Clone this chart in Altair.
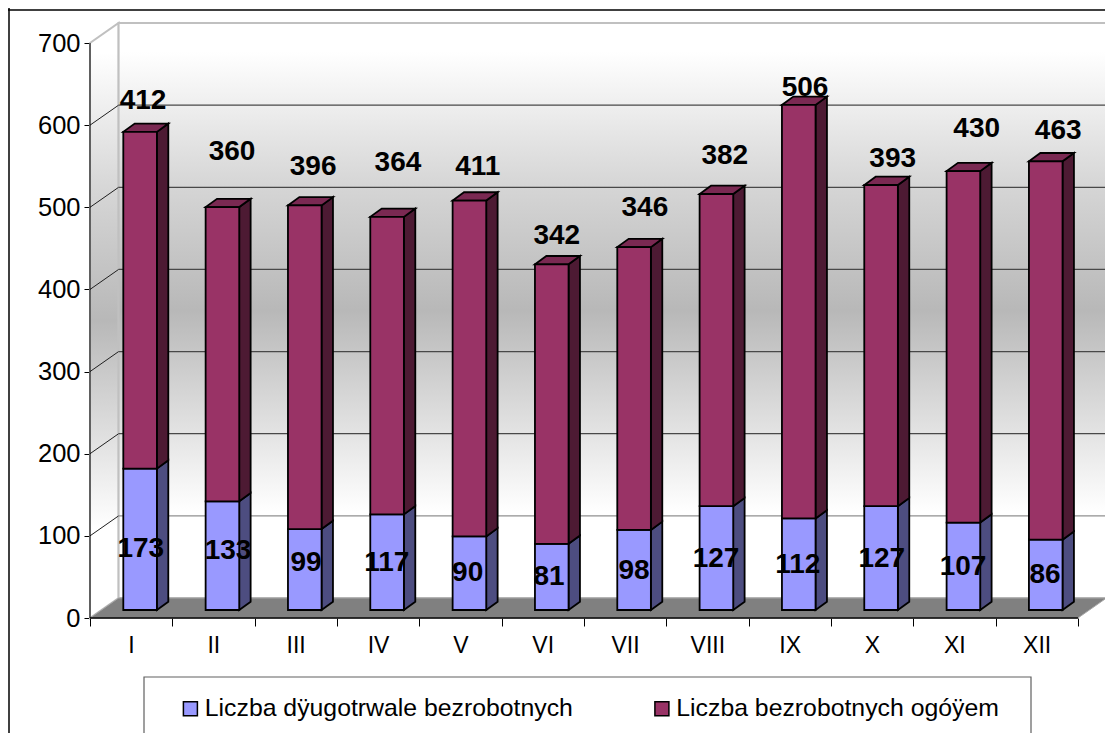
import altair as alt
import pandas as pd

months = ["I", "II", "III", "IV", "V", "VI", "VII", "VIII", "IX", "X", "XI", "XII"]
long_term = [173, 133, 99, 117, 90, 81, 98, 127, 112, 127, 107, 86]
overall = [412, 360, 396, 364, 411, 342, 346, 382, 506, 393, 430, 463]
series = ["Liczba dÿugotrwale bezrobotnych", "Liczba bezrobotnych ogóÿem"]

# label anchors (month position, value-axis height)
overall_label_x = [0.644, 1.725, 2.71, 3.74, 4.71, 5.67, 6.74, 7.71, 8.685, 9.75, 10.77, 11.76]
overall_label_y = [631, 569, 550, 555, 550, 466, 500, 564, 646, 560, 596, 594]
long_label_x = [0.617, 1.676, 2.624, 3.604, 4.587, 5.575, 6.608, 7.604, 8.596, 9.617, 10.604, 11.60]
long_label_y = [85, 83, 68, 68, 56, 51, 58, 73, 66, 73, 63, 54]

FONT = "Liberation Sans"
X_PX = 82.33          # px per month
Y_PX = 0.8214         # px per value unit
W, H = 1097, 725
x_scale = alt.Scale(domain=[(8 - 90) / X_PX, (8 + W - 90) / X_PX], range=[0, W], nice=False, zero=False)
y_scale = alt.Scale(domain=[(618 - 733) / Y_PX, (618 - 8) / Y_PX], range=[H, 0], nice=False, zero=False)

WALL_DX, WALL_DY = 28.6 / X_PX, 20 / Y_PX
BAR_LEFT, BAR_W = 33.3 / X_PX, 33.6 / X_PX
BAR_DX, BAR_DY = 11.4 / X_PX, 8.3 / Y_PX
BASE = 8 / Y_PX
BAR_DEPTH_SCALE = 0.995   # bars stand nearer the back wall of the oblique view
TOP = 700
N = len(months)

x_axis = alt.Axis(
    orient="bottom", offset=-115, values=list(range(0, N + 1)), domain=False, grid=False,
    tickColor="black", tickSize=8, tickWidth=1, labelFontSize=23, labelFont=FONT,
    labelColor="black", labelPadding=8, labelOverlap=False, labelFlush=False, labelOffset=41,
    labelExpr="[" + ",".join(f"'{m}'" for m in months) + ",''][datum.value]",
)
y_axis = alt.Axis(
    orient="left", offset=-82, values=list(range(0, 800, 100)), domain=False, grid=False,
    tickColor="black", tickSize=6, tickWidth=1, labelFontSize=25.5, labelFont=FONT,
    labelColor="black", labelPadding=4, labelOverlap=False,
)

X = alt.X("x:Q", scale=x_scale, axis=x_axis, title=None)
Y = alt.Y("y:Q", scale=y_scale, axis=y_axis, title=None, stack=None)
X2 = alt.X2("x2:Q")
Y2 = alt.Y2("y2:Q")

gradient = dict(
    gradient="linear", x1=0, y1=0, x2=0, y2=1,
    stops=[
        dict(offset=0, color="#ffffff"), dict(offset=0.05, color="#ffffff"),
        dict(offset=0.28, color="#d6d6d6"), dict(offset=0.5, color="#b8b8b8"),
        dict(offset=0.85, color="#ffffff"), dict(offset=1, color="#ffffff"),
    ],
)

# --- frame (top and left of the chart area)
frame_top = alt.Chart(pd.DataFrame({"y": [(618 - 10) / Y_PX]})).mark_rule(color="black", strokeWidth=1.5).encode(y=Y)
frame_left = alt.Chart(pd.DataFrame({"x": [(9 - 90) / X_PX]})).mark_rule(color="black", strokeWidth=1.5).encode(x=X)

# --- walls and floor
side_wall = alt.Chart(pd.DataFrame({
    "x": [0, WALL_DX], "y": [0, WALL_DY], "y2": [TOP, TOP + WALL_DY],
})).mark_area(fill=gradient, stroke="#c0c0c0", strokeWidth=2).encode(x=X, y=Y, y2=Y2)

back_wall = alt.Chart(pd.DataFrame({
    "x": [WALL_DX], "x2": [N + WALL_DX], "y": [WALL_DY], "y2": [TOP + WALL_DY],
})).mark_rect(fill=gradient, stroke="#c0c0c0", strokeWidth=2).encode(x=X, x2=X2, y=Y, y2=Y2)

floor = alt.Chart(pd.DataFrame({
    "x": [0, WALL_DX, N, N + WALL_DX],
    "y": [0, 0, 0, WALL_DY],
    "y2": [0, WALL_DY, WALL_DY, WALL_DY],
})).mark_area(fill="#808080", stroke="#a8a8a8", strokeWidth=1).encode(x=X, y=Y, y2=Y2)

# --- gridlines: diagonals on the side wall, horizontals on the back wall
diag_rows, back_rows = [], []
for v in range(100, 700, 100):
    diag_rows += [dict(k=v, o=0, x=0, y=v), dict(k=v, o=1, x=WALL_DX, y=v + WALL_DY)]
    back_rows.append(dict(x=WALL_DX, x2=N + WALL_DX, y=v + WALL_DY, c="#909090" if v == 100 else "#484848"))
grid_diag = alt.Chart(pd.DataFrame(diag_rows)).mark_line(color="#202020", strokeWidth=1).encode(
    x=X, y=Y, detail="k:N", order="o:Q"
)
grid_back = alt.Chart(pd.DataFrame(back_rows)).mark_rule(strokeWidth=1.2).encode(
    x=X, x2=X2, y=Y, color=alt.Color("c:N", scale=None)
)

axis_x_line = alt.Chart(pd.DataFrame({"x": [0], "x2": [N], "y": [0]})).mark_rule(color="black", strokeWidth=1.5).encode(x=X, x2=X2, y=Y)
axis_y_line = alt.Chart(pd.DataFrame({"x": [0], "y": [0], "y2": [TOP]})).mark_rule(color="black", strokeWidth=1).encode(x=X, y=Y, y2=Y2)

# --- bars
front_rows, face_rows = [], []
for i in range(N):
    l, r = i + BAR_LEFT, i + BAR_LEFT + BAR_W
    lo = BASE
    mid = BASE + long_term[i] * BAR_DEPTH_SCALE
    hi = mid + overall[i] * BAR_DEPTH_SCALE
    front_rows.append(dict(x=l, x2=r, y=lo, y2=mid, s=series[0]))
    front_rows.append(dict(x=l, x2=r, y=mid, y2=hi, s=series[1]))
    for name, a, b, col in ((f"a{i}", lo, mid, "#4d4d80"), (f"b{i}", mid, hi, "#4d1a33")):
        face_rows.append(dict(k=name, x=r, y=a, y2=b, c=col))
        face_rows.append(dict(k=name, x=r + BAR_DX, y=a + BAR_DY, y2=b + BAR_DY, c=col))
    t = f"t{i}"
    for x, y, y2 in ((l, hi, hi), (l + BAR_DX, hi, hi + BAR_DY), (r, hi, hi + BAR_DY), (r + BAR_DX, hi + BAR_DY, hi + BAR_DY)):
        face_rows.append(dict(k=t, x=x, y=y, y2=y2, c="#7a2952"))

faces = alt.Chart(pd.DataFrame(face_rows)).mark_area(stroke="black", strokeWidth=1.8).encode(
    x=X, y=Y, y2=Y2, detail="k:N", color=alt.Color("c:N", scale=None)
)
fronts = alt.Chart(pd.DataFrame(front_rows)).mark_rect(stroke="black", strokeWidth=1.8).encode(
    x=X, x2=X2, y=Y, y2=Y2,
    color=alt.Color("s:N", scale=alt.Scale(domain=series, range=["#9999ff", "#993366"]), legend=alt.Legend(
        orient="none", legendX=170, legendY=688, direction="horizontal", columns=2, title=None,
        symbolType="square", symbolSize=196, symbolStrokeColor="black", symbolStrokeWidth=1.5,
        symbolOpacity=1, labelFont=FONT, labelFontSize=24.8, labelColor="black", labelLimit=500,
        labelOffset=2, columnPadding=76.5, padding=0,
    )),
)

# --- legend frame
legend_box = alt.Chart(pd.DataFrame({
    "x": [(144 - 90) / X_PX], "x2": [(1031 - 90) / X_PX], "y": [(618 - 677) / Y_PX], "y2": [(618 - 760) / Y_PX],
})).mark_rect(fill="white", stroke="#606060", strokeWidth=1.2).encode(x=X, x2=X2, y=Y, y2=Y2)

# --- value labels
labels = pd.DataFrame({
    "x": overall_label_x + long_label_x,
    "y": overall_label_y + long_label_y,
    "t": [str(v) for v in overall] + [str(v) for v in long_term],
})
value_labels = alt.Chart(labels).mark_text(
    font=FONT, fontSize=28, fontWeight="bold", color="black", align="center", baseline="middle", dy=1
).encode(x=X, y=Y, text="t:N")

chart = alt.layer(
    frame_top, frame_left, side_wall, back_wall, floor, grid_diag, grid_back,
    axis_x_line, axis_y_line, legend_box, faces, fronts, value_labels,
).properties(
    width=W, height=H, padding=0, autosize=alt.AutoSizeParams(type="none"), background="white",
).configure_view(stroke=None)

chart.save("out.html", embed_options={"renderer": "svg", "actions": False})
